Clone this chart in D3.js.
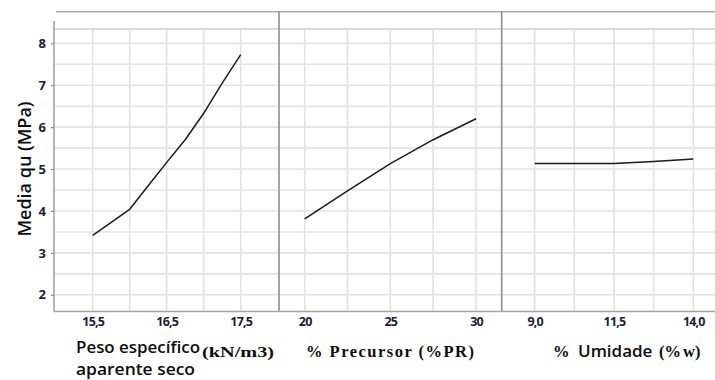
<!DOCTYPE html>
<html>
<head>
<meta charset="utf-8">
<script src="https://cdn.jsdelivr.net/npm/d3@7"></script>
<style>
  html, body { margin: 0; padding: 0; background: #fff; }
  svg { display: block; }
</style>
</head>
<body>
<svg id="chart" width="715" height="380"></svg>
<script>
// Main effects plot: mean unconfined compressive strength qu (MPa) per factor

// Shared response axis
const quTicks = [2, 3, 4, 5, 6, 7, 8];
const quGrid = [2, 2.5, 3, 3.5, 4, 4.5, 5, 5.5, 6, 6.5, 7, 7.5, 8];

// Factor 1: dry unit weight (kN/m3)
const pesoLevels = [15.5, 15.75, 16.0, 16.25, 16.5, 16.75, 17.0, 17.25, 17.5];
const pesoQu = [3.42, 3.73, 4.04, 4.60, 5.16, 5.70, 6.33, 7.05, 7.73];
const pesoGrid = [15.5, 16.0, 16.5, 17.0, 17.5];
const pesoTicks = [15.5, 16.5, 17.5];
const pesoTickLabels = ["15,5", "16,5", "17,5"];

// Factor 2: precursor content (%)
const precLevels = [20, 22.5, 25, 27.5, 30];
const precQu = [3.81, 4.48, 5.13, 5.70, 6.20];
const precGrid = [20, 22.5, 25, 27.5, 30];
const precTicks = [20, 25, 30];
const precTickLabels = ["20", "25", "30"];

// Factor 3: moisture content (%)
const umidLevels = [9.0, 10.25, 11.5, 12.75, 14.0];
const umidQu = [5.13, 5.13, 5.13, 5.18, 5.24];
const umidGrid = [9.0, 10.25, 11.5, 12.75, 14.0];
const umidTicks = [9.0, 11.5, 14.0];
const umidTickLabels = ["9,0", "11,5", "14,0"];

// ---- layout ----
const frameTop = 11.7;
const plotTop = 29;
const plotBottom = 311.5;
const axisX = 54;
const axisTop = 21;
const frameRight = 715;

const sans = "'Open Sans', 'Noto Sans', sans-serif";
const serif = "'Liberation Serif', 'DejaVu Serif', serif";
const tickColor = "#1c1d36";

const y = d3.scaleLinear().domain([2, 8]).range([294.8, 43.3]);

const panels = [
  { levels: pesoLevels, qu: pesoQu, grid: pesoGrid, ticks: pesoTicks, labels: pesoTickLabels,
    left: 54, right: 279, range: [92.7, 240.7] },
  { levels: precLevels, qu: precQu, grid: precGrid, ticks: precTicks, labels: precTickLabels,
    left: 279, right: 501.7, range: [304.7, 476] },
  { levels: umidLevels, qu: umidQu, grid: umidGrid, ticks: umidTicks, labels: umidTickLabels,
    left: 501.7, right: 726, range: [534.7, 693.3] }
];

const svg = d3.select("#chart");

const gridColor = "#e3e3e3";

// horizontal grid across all panels
svg.append("g").selectAll("line").data(quGrid).join("line")
  .attr("x1", axisX).attr("x2", frameRight)
  .attr("y1", d => y(d)).attr("y2", d => y(d))
  .attr("stroke", gridColor).attr("stroke-width", 1.6);

panels.forEach(p => {
  const x = d3.scaleLinear().domain([p.levels[0], p.levels[p.levels.length - 1]]).range(p.range);
  p.x = x;
  // vertical grid
  svg.append("g").selectAll("line").data(p.grid).join("line")
    .attr("x1", d => x(d)).attr("x2", d => x(d))
    .attr("y1", plotTop).attr("y2", plotBottom)
    .attr("stroke", gridColor).attr("stroke-width", 1.6);
});

// top border of the plotting region
svg.append("line")
  .attr("x1", axisX).attr("x2", frameRight)
  .attr("y1", plotTop).attr("y2", plotTop)
  .attr("stroke", "#cfcfcf").attr("stroke-width", 1.6);

// outer frame top
svg.append("line")
  .attr("x1", 56).attr("x2", frameRight)
  .attr("y1", frameTop).attr("y2", frameTop)
  .attr("stroke", "#a9a9a9").attr("stroke-width", 1.6);

// panel separators
svg.append("g").selectAll("line").data(panels.slice(1)).join("line")
  .attr("x1", d => d.left).attr("x2", d => d.left)
  .attr("y1", frameTop).attr("y2", plotBottom)
  .attr("stroke", "#8e8e8e").attr("stroke-width", 1.6);

// left and bottom axis lines
svg.append("line")
  .attr("x1", axisX).attr("x2", axisX)
  .attr("y1", axisTop).attr("y2", plotBottom)
  .attr("stroke", "#a3a3a3").attr("stroke-width", 1.6);
svg.append("line")
  .attr("x1", axisX).attr("x2", frameRight)
  .attr("y1", plotBottom).attr("y2", plotBottom)
  .attr("stroke", "#a3a3a3").attr("stroke-width", 1.6);

// y axis ticks and labels
const yAxis = svg.append("g")
  .attr("transform", `translate(${axisX},0)`)
  .call(d3.axisLeft(y).tickValues(quTicks).tickSize(3).tickPadding(5).tickFormat(d3.format("d")));
yAxis.select(".domain").remove();
yAxis.selectAll(".tick line").attr("stroke", "#8a8a8a").attr("stroke-width", 1.2);
yAxis.selectAll("text")
  .attr("font-family", sans).attr("font-size", 13).attr("font-weight", 700)
  .attr("fill", tickColor);

// x axes
panels.forEach(p => {
  const ax = svg.append("g")
    .attr("transform", `translate(0,${plotBottom})`)
    .call(d3.axisBottom(p.x).tickValues(p.ticks).tickSize(0).tickPadding(6)
      .tickFormat((d, i) => p.labels[i]));
  ax.select(".domain").remove();
  ax.selectAll("text")
    .attr("font-family", sans).attr("font-size", 12.5).attr("font-weight", 700)
    .attr("fill", tickColor).attr("letter-spacing", "-0.8px");
});

// effect lines
const line = d3.line();
panels.forEach(p => {
  svg.append("path")
    .attr("d", line(p.levels.map((v, i) => [p.x(v), y(p.qu[i])])))
    .attr("fill", "none").attr("stroke", "#1b1b1b").attr("stroke-width", 1.5)
    .attr("stroke-linejoin", "round");
});

// y axis title
svg.append("text")
  .attr("transform", "translate(31,169) rotate(-90)")
  .attr("text-anchor", "middle")
  .attr("font-family", sans).attr("font-size", 18).attr("font-weight", 600)
  .attr("fill", "#0d0d0d")
  .text("Media qu (MPa)");

// factor titles
svg.append("text").attr("x", 76).attr("y", 353)
  .attr("font-family", sans).attr("font-size", 17).attr("font-weight", 600).attr("fill", "#0d0d0d")
  .attr("textLength", 124).attr("lengthAdjust", "spacingAndGlyphs")
  .text("Peso específico");
svg.append("text").attr("x", 202).attr("y", 357)
  .attr("font-family", serif).attr("font-size", 15.5).attr("font-weight", 700).attr("fill", "#0d0d0d")
  .attr("textLength", 72).attr("lengthAdjust", "spacingAndGlyphs")
  .text("(kN/m3)");
svg.append("text").attr("x", 76).attr("y", 375)
  .attr("font-family", sans).attr("font-size", 17).attr("font-weight", 600).attr("fill", "#0d0d0d")
  .attr("textLength", 119).attr("lengthAdjust", "spacingAndGlyphs")
  .text("aparente seco");

svg.append("text").attr("x", 306).attr("y", 357)
  .attr("font-family", serif).attr("font-size", 16.5).attr("font-weight", 700).attr("fill", "#0d0d0d")
  .attr("textLength", 168).attr("lengthAdjust", "spacing")
  .text("% Precursor (%PR)");

const t3 = svg.append("text").attr("y", 357)
  .attr("font-family", serif).attr("font-size", 16.5).attr("font-weight", 700).attr("fill", "#0d0d0d");
t3.append("tspan").attr("x", 553).text("%");
t3.append("tspan").attr("x", 578).attr("font-family", sans).attr("font-size", 17).attr("font-weight", 600)
  .text("Umidade");
t3.append("tspan").attr("x", 659).text("(%");
t3.append("tspan").attr("dx", 2).text("w)");
</script>
</body>
</html>
